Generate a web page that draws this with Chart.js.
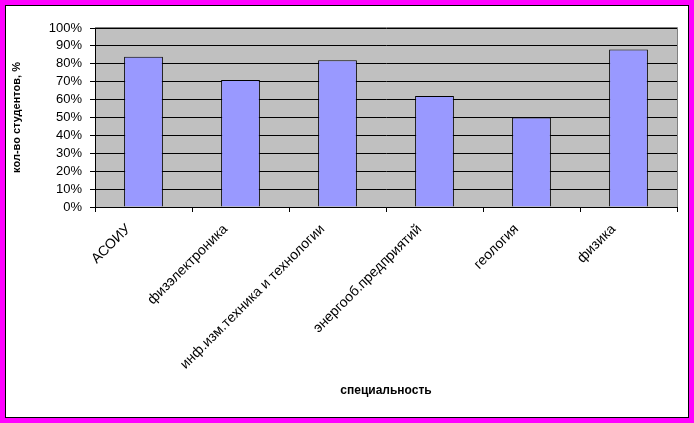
<!DOCTYPE html>
<html>
<head>
<meta charset="utf-8">
<script src="https://cdn.jsdelivr.net/npm/chart.js@4/dist/chart.umd.min.js"></script>
<style>
  html, body { margin: 0; padding: 0; background: #fff; }
  #wrap { position: relative; width: 694px; height: 423px; }
</style>
</head>
<body>
<div id="wrap"><canvas id="chart" width="694" height="423"></canvas></div>
<script>
const categories = ['АСОИУ', 'физэлектроника', 'инф.изм.техника и технологии', 'энергооб.предприятий', 'геология', 'физика'];
const percents = [84, 71, 82, 62, 50, 88];
const yTicks = [0, 10, 20, 30, 40, 50, 60, 70, 80, 90, 100];

// рамка вокруг всей картинки и серый фон области построения
const framePlugin = {
  id: 'frame',
  beforeDraw(chart) {
    const c = chart.ctx, w = chart.width, h = chart.height, a = chart.chartArea;
    c.save();
    c.fillStyle = '#ff00ff';
    c.fillRect(0, 0, w, h);
    c.fillStyle = '#ffffff';
    c.fillRect(6, 6, w - 12, h - 12);
    c.strokeStyle = '#000';
    c.lineWidth = 1;
    c.strokeRect(5.5, 5.5, w - 11, h - 11);
    c.fillStyle = '#c0c0c0';
    c.fillRect(a.left, a.top, a.right - a.left, a.bottom - a.top);
    c.strokeStyle = '#808080';
    c.beginPath();
    c.moveTo(a.left, a.top - 0.5);
    c.lineTo(a.right + 0.5, a.top - 0.5);
    c.lineTo(a.right + 0.5, a.bottom);
    c.stroke();
    c.restore();
  }
};

new Chart(document.getElementById('chart'), {
  type: 'bar',
  data: {
    labels: categories,
    datasets: [{
      data: percents,
      backgroundColor: '#9999ff',
      borderColor: '#000000',
      borderWidth: 1,
      categoryPercentage: 1,
      barPercentage: 0.4
    }]
  },
  plugins: [framePlugin],
  options: {
    responsive: false,
    animation: false,
    layout: { padding: { left: 0, right: 17, top: 28, bottom: 0 } },
    plugins: { legend: { display: false }, tooltip: { enabled: false } },
    scales: {
      x: {
        offset: true,
        grid: { offset: true, drawOnChartArea: false, drawTicks: true, tickLength: 5, color: '#000' },
        border: { color: '#000' },
        ticks: {
          color: '#000', font: { family: 'Liberation Sans', size: 14 },
          minRotation: 45, maxRotation: 45, autoSkip: false, padding: 9, labelOffset: -15
        },
        title: {
          display: true, text: 'специальность', color: '#000',
          font: { family: 'Liberation Sans', size: 12, weight: 'bold' },
          padding: { top: 0, bottom: 25 }
        },
        afterFit(s) { s.height = 216; }
      },
      y: {
        min: 0, max: 100,
        afterBuildTicks(s) { s.ticks = yTicks.map(v => ({ value: v })); },
        grid: { color: '#000', tickLength: 5 },
        border: { color: '#000' },
        ticks: {
          color: '#000', font: { family: 'Liberation Sans', size: 13 }, padding: 8,
          autoSkip: false, callback: v => v + '%'
        },
        title: {
          display: true, text: 'кол-во студентов, %', color: '#000',
          font: { family: 'Liberation Sans', size: 11, weight: 'bold' },
          padding: { top: 10, bottom: 0 }
        },
        afterFit(s) { s.width = 95; }
      }
    }
  }
});
</script>
</body>
</html>
